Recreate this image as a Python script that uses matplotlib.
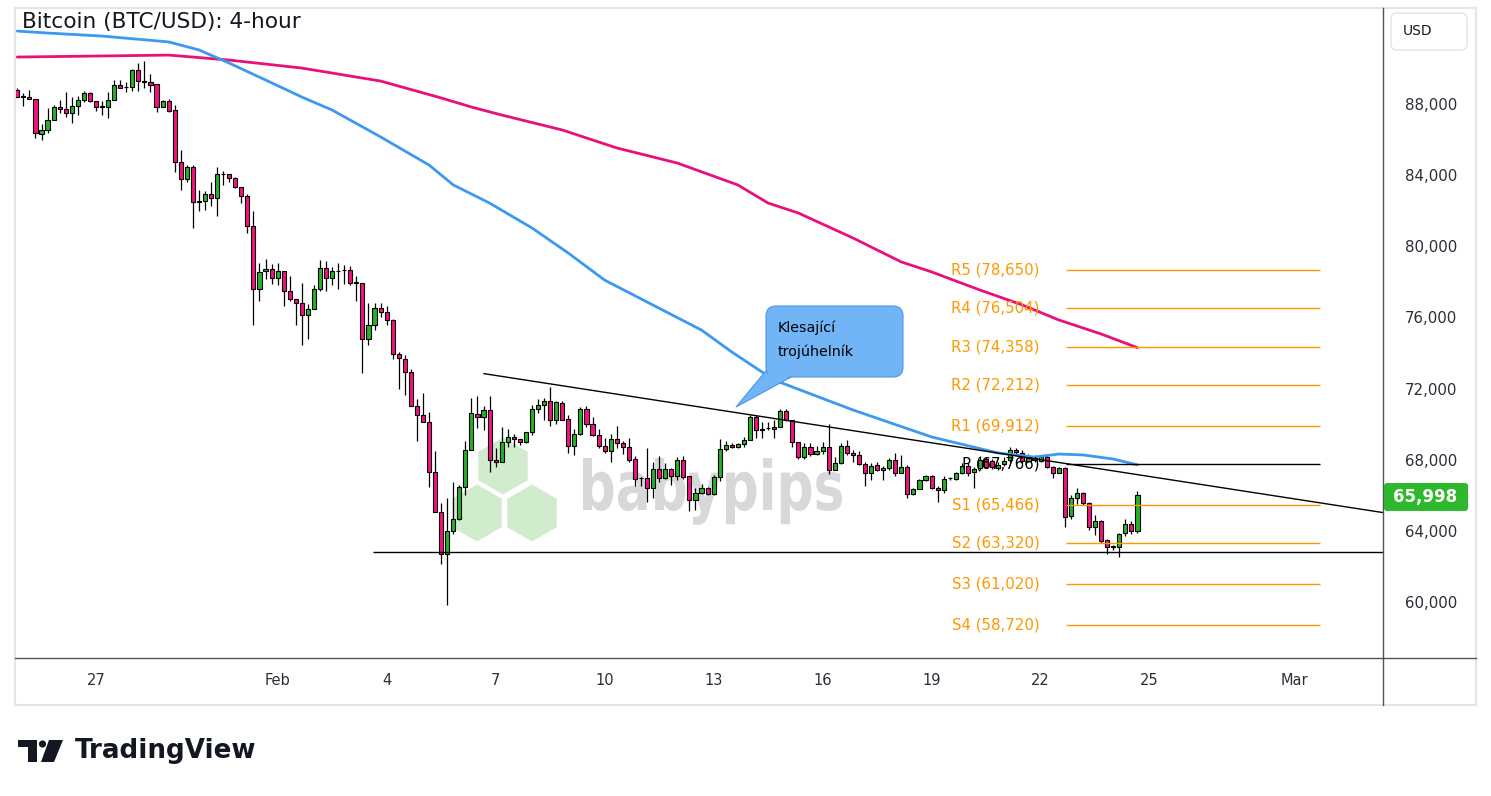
import matplotlib
matplotlib.use("Agg")
import matplotlib.pyplot as plt
import matplotlib.dates as mdates
from matplotlib.patches import Polygon, FancyBboxPatch, PathPatch, Rectangle, Circle, RegularPolygon
from matplotlib.textpath import TextPath
from matplotlib.font_manager import FontProperties
from matplotlib.transforms import Affine2D, IdentityTransform
from matplotlib.ticker import FuncFormatter
import pandas as pd

W, H = 1491, 796

# 4-hour candles, BTC/USD, first bar Jan 24 20:00
first_bar = "2026-01-24 20:00"
opens = [
    88790, 88430, 88380, 88290, 86340, 86530, 87080, 87820, 87710, 87480,
    87890, 88210, 88600, 88150, 87840, 87850, 88210, 89060, 88930, 88940,
    89910, 89270, 89220, 89110, 87820, 88180, 87660, 84760, 83780, 84460,
    82480, 82570, 82950, 82700, 84050, 84050, 83830, 83330, 82820, 81130,
    77590, 78620, 78730, 78200, 78620, 77460, 77030, 76790, 76110, 76470,
    77590, 78770, 78210, 78610, 78650, 78660, 77950, 77960, 74780, 75580,
    76520, 76330, 75830, 73940, 73660, 72930, 71030, 70490, 70100, 67290,
    65060, 62700, 64010, 64670, 66460, 68520, 70570, 70430, 70790, 67980,
    67870, 69000, 69280, 69170, 69000, 69550, 70850, 71050, 71280, 70250,
    71190, 70290, 68790, 69440, 70850, 70000, 69400, 68790, 68470, 69170,
    68940, 68720, 68040, 66960, 66970, 66410, 67480, 66970, 67480, 67070,
    68000, 67070, 65720, 66130, 66410, 66090, 67030, 68600, 68830, 68690,
    68890, 69120, 70430, 69700, 69760, 69720, 69840, 70750, 70210, 69000,
    68150, 68720, 68330, 68500, 68720, 67400, 67810, 68750, 68380, 68280,
    67770, 67250, 67680, 67400, 67530, 68000, 67250, 67590, 66070, 66370,
    66870, 67070, 66410, 66320, 66950, 66900, 67240, 67650, 67310, 67520,
    68030, 67930, 67550, 67760, 67990, 68550, 68400, 67950, 68100, 67950,
    68140, 67580, 67280, 67520, 64840, 65830, 66110, 65550, 64200, 64570,
    63490, 63080, 63110, 63870, 64390, 64010,
]
highs = [
    88880, 88600, 88790, 88290, 86860, 87760, 87950, 88220, 88660, 88380,
    88470, 88730, 88660, 88150, 88190, 88700, 89350, 89350, 89220, 89970,
    90290, 90420, 89690, 89110, 88250, 88290, 87950, 85420, 84580, 84580,
    83170, 83110, 83620, 84440, 84260, 84050, 83920, 83330, 82930, 81990,
    79050, 79290, 79010, 79050, 78620, 78340, 77030, 77930, 76760, 77830,
    79240, 79180, 78860, 79050, 78960, 78900, 78340, 77960, 76800, 76800,
    76800, 76620, 75910, 74030, 73880, 73100, 71410, 71750, 70680, 68470,
    65560, 65840, 66750, 66590, 69060, 71460, 71590, 71030, 71590, 68650,
    69840, 69730, 69450, 69170, 69550, 71090, 71410, 71460, 72110, 71280,
    71280, 70530, 69730, 70960, 71030, 70400, 69730, 69220, 69450, 69900,
    69060, 69220, 68190, 67030, 68650, 67900, 68220, 67810, 67560, 68150,
    68220, 67070, 66410, 66650, 66480, 67150, 69170, 69080, 68950, 68950,
    69280, 70530, 70530, 70150, 70150, 70210, 70850, 70850, 70260, 69000,
    68940, 68940, 68750, 68970, 70020, 68150, 68940, 69120, 68560, 68470,
    67900, 67810, 67850, 67660, 68090, 68400, 68280, 67720, 66420, 66920,
    67150, 67150, 66500, 67070, 67030, 67330, 67800, 67820, 67590, 68210,
    68150, 68050, 67900, 68150, 68720, 68650, 68550, 68300, 68250, 68250,
    68250, 67650, 67580, 67580, 66020, 66390, 66200, 65600, 64890, 64600,
    63550, 63200, 63900, 64650, 64550, 66240,
]
lows = [
    88410, 87900, 88270, 86110, 86000, 86380, 87080, 87480, 87290, 86920,
    87390, 88100, 88100, 87610, 87380, 87200, 88210, 88880, 88700, 88740,
    88740, 88880, 88700, 87570, 87820, 87570, 84200, 83170, 83640, 81020,
    81960, 82040, 82250, 81730, 83420, 83640, 83260, 82420, 80740, 75550,
    76950, 78170, 77890, 77800, 76670, 76900, 75580, 74460, 74800, 76470,
    77500, 77500, 77800, 77590, 77870, 77830, 76950, 72870, 74460, 75300,
    76000, 75580, 73660, 71970, 71650, 71000, 69080, 70100, 66450, 65060,
    62150, 59850, 63840, 64600, 65990, 68520, 69780, 69650, 67290, 67590,
    67870, 68720, 68720, 68840, 68950, 69400, 70620, 70210, 69900, 70000,
    70250, 68370, 68280, 69400, 69840, 69310, 68650, 68400, 67900, 68650,
    68330, 67900, 66500, 66500, 65650, 65850, 66730, 66900, 66590, 66870,
    66900, 65100, 65150, 66100, 66030, 66030, 66780, 68470, 68650, 68640,
    68720, 69100, 69220, 69220, 69650, 69220, 69820, 70180, 68690, 68040,
    68040, 68210, 68250, 68330, 67210, 67400, 67760, 68280, 67850, 67720,
    66500, 66840, 67350, 66840, 67440, 67100, 67250, 65850, 66030, 66330,
    66820, 66330, 65600, 66130, 66870, 66860, 67200, 67090, 66410, 67420,
    67540, 67500, 67450, 67650, 67870, 68350, 67800, 67850, 67900, 67900,
    67550, 67000, 67250, 64220, 64670, 65510, 65450, 64050, 63770, 63300,
    62700, 62900, 62520, 63700, 63800, 63900,
]
closes = [
    88410, 88400, 88270, 86360, 86530, 87080, 87820, 87710, 87480, 87890,
    88210, 88600, 88150, 87820, 87860, 88210, 89060, 88920, 88950, 89910,
    89280, 89250, 89090, 87820, 88180, 87630, 84740, 83780, 84460, 82480,
    82570, 82950, 82700, 84050, 84060, 83830, 83330, 82820, 81130, 77590,
    78550, 78730, 78200, 78620, 77460, 77030, 76790, 76110, 76470, 77590,
    78770, 78210, 78620, 78630, 78670, 77930, 77970, 74780, 75580, 76520,
    76330, 75870, 73940, 73720, 72930, 71030, 70490, 70100, 67290, 65060,
    62700, 64010, 64670, 66460, 68520, 70620, 70430, 70790, 67960, 67850,
    69000, 69280, 69170, 69000, 69550, 70850, 71050, 71280, 70250, 71240,
    70250, 68790, 69440, 70850, 70020, 69400, 68790, 68470, 69170, 68940,
    68720, 68000, 66920, 66980, 66410, 67480, 66970, 67480, 67070, 68000,
    67030, 65720, 66130, 66410, 66090, 67030, 68600, 68830, 68690, 68890,
    69120, 70400, 69680, 69740, 69800, 69840, 70750, 70210, 69000, 68150,
    68720, 68330, 68500, 68720, 67400, 67810, 68750, 68380, 68280, 67770,
    67250, 67660, 67400, 67530, 68000, 67250, 67590, 66070, 66370, 66870,
    67070, 66410, 66320, 66920, 66980, 67270, 67650, 67260, 67480, 67990,
    67610, 67610, 67720, 67950, 68550, 68460, 67950, 68100, 68000, 68140,
    67610, 67280, 67520, 64800, 65830, 66110, 65550, 64200, 64570, 63450,
    63080, 63130, 63830, 64390, 64010, 65998,
]

# moving averages, read at bar indices
ma_fast_idx = [0, 5, 14, 25, 30, 35, 41, 47, 52, 60, 68, 72, 78, 85, 91, 97,
               104, 113, 118, 125, 138, 151, 162, 168, 172, 176, 181, 185]
ma_fast = [92100, 91990, 91820, 91490, 91040, 90300, 89350, 88390, 87660, 86150,
           84570, 83450, 82430, 81030, 79620, 78100, 76870, 75290, 74060, 72480,
           70800, 69280, 68380, 68150, 68320, 68270, 68040, 67710]
ma_slow_idx = [0, 14, 25, 35, 47, 60, 70, 75, 80, 90, 99, 109, 119, 124, 129,
               138, 146, 151, 159, 166, 172, 179, 185]
ma_slow = [90640, 90700, 90750, 90470, 90020, 89290, 88340, 87830, 87380, 86540,
           85530, 84680, 83450, 82430, 81870, 80470, 79120, 78560, 77540, 76700,
           75860, 75070, 74300]

pivot_names = ["R5", "R4", "R3", "R2", "R1", "P", "S1", "S2", "S3", "S4"]
pivot_levels = [78650, 76504, 74358, 72212, 69912, 67766, 65466, 63320, 61020, 58720]

support_level = 62830
trend_start = ("2026-02-06 16:20", 72840)
trend_end = ("2026-03-03 10:10", 65030)

last_price = 65998
y_ticks = [60000, 64000, 68000, 72000, 76000, 80000, 84000, 88000]
x_tick_dates = ["2026-01-27", "2026-02-01", "2026-02-04", "2026-02-07", "2026-02-10",
                "2026-02-13", "2026-02-16", "2026-02-19", "2026-02-22", "2026-02-25",
                "2026-03-01"]
x_tick_labels = ["27", "Feb", "4", "7", "10", "13", "16", "19", "22", "25", "Mar"]

UP = "#27b327"
DOWN = "#f7107f"
ORANGE = "#ff9800"
TXT = "#2a2e39"


def px(x, y):
    return (x, H - y)


def dnum(s):
    return mdates.date2num(pd.Timestamp(s).to_pydatetime())


fig = plt.figure(figsize=(W / 100, H / 100), dpi=100, facecolor="white")
ax = fig.add_axes([15 / W, (H - 658) / H, (1383 - 15) / W, (658 - 8) / H])
ax.set_facecolor("none")

times = pd.date_range(first_bar, periods=len(opens), freq="4h")
xs = mdates.date2num(times.to_pydatetime())
bar_w = (1 / 6) * 0.68

base = dnum("2026-01-27")
ax.set_xlim(base - 2.2295, base + 35.425)
ax.set_ylim(56854, 93397)

# candles
for x, o, h, l, c in zip(xs, opens, highs, lows, closes):
    col = UP if c >= o else DOWN
    ax.vlines(x, l, h, color="black", lw=0.9, zorder=2)
    ax.bar(x, max(abs(c - o), 25), bottom=min(o, c), width=bar_w, color=col,
           edgecolor="black", linewidth=0.8, zorder=3)

# moving averages
ax.plot(xs[ma_slow_idx], ma_slow, color="#e8107a", lw=2.0, zorder=4,
        solid_capstyle="round", solid_joinstyle="round")
ax.plot(xs[ma_fast_idx], ma_fast, color="#3d98f0", lw=2.0, zorder=4,
        solid_capstyle="round", solid_joinstyle="round")

# pivots
piv_x0 = base + 26.70
piv_x1 = base + 33.69
lab_x = base + 25.98
for name, lvl in zip(pivot_names, pivot_levels):
    col = "black" if name == "P" else ORANGE
    ax.hlines(lvl, piv_x0, piv_x1, color=col, lw=1.0, zorder=5)
    ax.text(lab_x, lvl, f"{name} ({lvl:,})", color=col, fontsize=10.8,
            ha="right", va="center", zorder=6)

# support and falling trend line
ax.hlines(support_level, base + 7.62, base + 36, color="black", lw=1.0, zorder=5)
ax.plot([dnum(trend_start[0]), dnum(trend_end[0])], [trend_start[1], trend_end[1]],
        color="black", lw=1.0, zorder=5)

# axes style
for s in ax.spines.values():
    s.set_visible(False)
ax.yaxis.tick_right()
ax.set_yticks(y_ticks)
ax.yaxis.set_major_formatter(FuncFormatter(lambda v, p: f"{int(v):,}"))
ax.set_xticks([dnum(d) for d in x_tick_dates])
ax.set_xticklabels(x_tick_labels)
ax.tick_params(axis="y", length=0, pad=16, labelsize=10.8, labelcolor=TXT)
ax.tick_params(axis="x", length=0, pad=11, labelsize=10.5, labelcolor=TXT)

idt = IdentityTransform()

# frame
fig.add_artist(Rectangle(px(15, 705), 1461, 697, fill=False, edgecolor="#e3e5ea",
                         lw=1.5, transform=idt))
fig.add_artist(plt.Line2D([15, 1476], [H - 658, H - 658], color="#50535e", lw=1.0,
                          transform=idt))
fig.add_artist(plt.Line2D([1383, 1383], [H - 8, H - 705], color="#50535e", lw=1.0,
                          transform=idt))

# title
fig.text(22 / W, 1 - 22 / H, "Bitcoin (BTC/USD): 4-hour", fontsize=15.6, color="#131722",
         ha="left", va="center")

# USD box
fig.add_artist(FancyBboxPatch(px(1391, 50), 76, 37, boxstyle="round,pad=0,rounding_size=6",
                              facecolor="white", edgecolor="#e0e3eb", lw=1.0, transform=idt))
fig.text(1403 / W, 1 - 31 / H, "USD", fontsize=10, color="#131722", ha="left", va="center")

# last price tag
fig.add_artist(FancyBboxPatch(px(1384, 511), 84, 28, boxstyle="round,pad=0,rounding_size=3",
                              facecolor="#2eb82e", edgecolor="none", transform=idt, zorder=5))
fig.text(1425 / W, 1 - 497 / H, f"{last_price:,}", fontsize=12, color="white",
         fontweight="bold", ha="center", va="center", zorder=6)

# callout
callout_col = "#72b5f7"
fig.add_artist(Polygon([px(770, 366), px(736, 407), px(793, 376)], closed=True,
                       facecolor=callout_col, edgecolor="#4a95e6", lw=0.8, transform=idt, zorder=7))
fig.add_artist(FancyBboxPatch(px(766, 377), 137, 71, boxstyle="round,pad=0,rounding_size=10",
                              facecolor=callout_col, edgecolor="#4a95e6", lw=0.8,
                              transform=idt, zorder=7))
fig.add_artist(Polygon([px(771, 370), px(740, 403), px(790, 376)], closed=True,
                       facecolor=callout_col, edgecolor="none", transform=idt, zorder=8))
fig.text(778 / W, 1 - 328 / H, "Klesající", fontsize=10.3, color="black", ha="left",
         va="center", zorder=9)
fig.text(778 / W, 1 - 352 / H, "trojúhelník", fontsize=10.3, color="black", ha="left",
         va="center", zorder=9)

# babypips watermark
hex_col = "#d1ebcd"
for cx, cy in [(503, 466), (477, 513), (532, 513)]:
    fig.add_artist(RegularPolygon(px(cx, cy), 6, radius=28.5, orientation=0,
                                  facecolor=hex_col, edgecolor="none", transform=idt,
                                  zorder=-1))
fp = FontProperties(family="DejaVu Sans", weight="bold")
tp = TextPath((0, 0), "babypips", size=100, prop=fp)
bb = tp.get_extents()
sx = (842 - 583) / bb.width
sy = (510 - 458) / bb.y1
tr = Affine2D().translate(-bb.x0, 0).scale(sx, sy).translate(583, H - 510)
fig.add_artist(PathPatch(tr.transform_path(tp), facecolor="#d8d8db", edgecolor="none",
                         transform=idt, zorder=-1))

# TradingView logo
fig.add_artist(Polygon([px(18, 740), px(37, 740), px(37, 762), px(28, 762), px(28, 747),
                        px(18, 747)], closed=True, facecolor="#131722", transform=idt))
fig.add_artist(Circle(px(42.5, 744), 3.6, facecolor="#131722", transform=idt))
fig.add_artist(Polygon([px(49, 740), px(63, 740), px(54, 762), px(41, 762)], closed=True,
                       facecolor="#131722", transform=idt))
fig.text(75 / W, 1 - 751 / H, "TradingView", fontsize=18.8, fontweight="bold",
         color="#131722", ha="left", va="center")

fig.savefig("out.png", dpi=100, facecolor="white")
